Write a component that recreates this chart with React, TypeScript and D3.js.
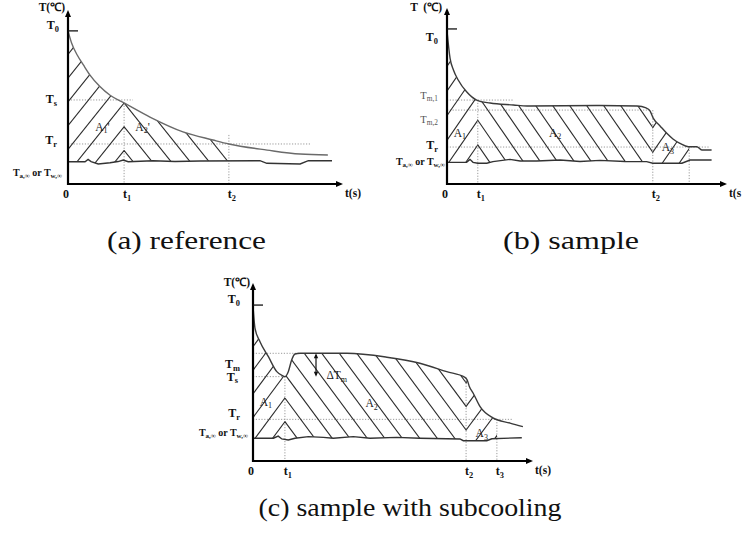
import React from "react";
import * as d3 from "d3";

type Pt = [number, number];

// Every panel uses a normalised 0..100 domain on both axes (time, temperature).

// ---- (a) reference ----
const refCoolTime = [0, 1.3, 3.4, 5.6, 8, 11.6, 15.3, 20.4, 29.8, 41.8, 52.7, 58.5, 72.4, 84.4, 94.5];
const refCoolTemp = [88, 81, 74, 68.4, 62.6, 56, 51, 46.6, 38.5, 30, 25.3, 23, 19.5, 17.2, 16.7];
const refAmbTime = [0, 6.2, 7.3, 8.4, 11, 15.3, 18.2, 20.1, 21.9, 30.9, 38.9, 48, 69.8, 72.3, 84.4, 87.4, 96];
const refAmbTemp = [12.8, 12.8, 14.1, 12.9, 11.5, 12.2, 12.9, 13.8, 12.8, 13.4, 12.9, 13.2, 13.4, 11.9, 11.5, 13.4, 13.4];
const refLevelLabels = ["T_{0}", "T_{s}", "T_{r}", "T_{a,∞} or T_{w,∞}"];
const refLevelValues = [88, 48.3, 23, 12.6];
const refTimeLabels = ["0", "t_{1}", "t_{2}"];
const refTimeValues = [0, 20.4, 58.5];
const refAreaLabels = ["A_{1}'", "A_{2}'"];

// ---- (b) sample ----
const smpCoolTime = [0, 1.1, 2.3, 4, 7, 10.6, 15.4, 23.7, 28.6, 54.6, 67.9, 71.1, 72.5, 73.7, 76.1, 78.5, 80.7, 83.2, 86.2, 89.2, 91, 94.5];
const smpCoolTemp = [87, 71.4, 64.8, 59.1, 52.4, 47.7, 46, 44.9, 44.3, 44.6, 44.3, 43.2, 41.5, 37.3, 33, 28.8, 25.6, 23.1, 21.2, 21.2, 19.3, 19.3];
const smpAmbTime = [0, 7, 8.2, 9.3, 11, 14.2, 16.4, 22.5, 26.1, 32, 40.4, 47.5, 54.6, 63.6, 71.3, 73.5, 83.9, 86.8, 94.5];
const smpAmbTemp = [12.3, 12.3, 14, 12.3, 11.8, 11.8, 12.7, 14, 13.1, 13.1, 13.6, 12.8, 13.4, 12.8, 12.7, 11.8, 11.8, 13.6, 13.6];
const smpLevelLabels = ["T_{0}", "T_{m,1}", "T_{m,2}", "T_{r}", "T_{a,∞} or T_{w,∞}"];
const smpLevelValues = [88.1, 47.7, 42, 21, 12.5];
const smpTimeLabels = ["0", "t_{1}", "t_{2}"];
const smpTimeValues = [0, 11, 73.5];
const smpAreaLabels = ["A_{1}", "A_{2}", "A_{3}"];

// ---- (c) sample with subcooling ----
const subCoolTime = [0, 0.7, 2.5, 5.5, 8.5, 10.5, 11.4, 12.6, 13.8, 15, 16.8, 33.5, 47.8, 59.6, 69.2, 75.7, 76.5, 77.3, 78.6, 81.1, 85.7, 91.8, 96.4];
const subCoolTemp = [87.1, 74.7, 67, 58.6, 50.2, 47.9, 47.4, 50.2, 56.7, 60.1, 60.5, 60.5, 58.3, 54.9, 50.2, 47, 45.5, 41.7, 38.2, 30.5, 24.2, 21.3, 19.3];
const subAmbTime = [0, 7.3, 9, 10.3, 12.6, 15, 19.8, 25.1, 28.7, 35.8, 41.8, 51.3, 59.6, 73.9, 75.1, 83.5, 85.3, 96];
const subAmbTemp = [12.8, 12.8, 14, 12.4, 11.8, 12.8, 13.7, 13.3, 12.8, 13.7, 12.8, 13.3, 12.8, 12.4, 11.4, 11.4, 12.5, 13.1];
const subLevelLabels = ["T_{0}", "T_{m}", "T_{s}", "T_{r}", "T_{a,∞} or T_{w,∞}"];
const subLevelValues = [87.6, 60.5, 47.4, 23.4, 12.8];
const subTimeLabels = ["0", "t_{1}", "t_{2}", "t_{3}"];
const subTimeValues = [0, 11.4, 76.1, 87.1];
const subAreaLabels = ["A_{1}", "A_{2}", "A_{3}", "ΔT_{m}"];

const captions = ["(a) reference", "(b) sample", "(c) sample with subcooling"];

const FONT = "Liberation Serif, Times New Roman, Times, serif";

const zip = (a: number[], b: number[]): Pt[] => a.map((v, i) => [v, b[i]]);

interface HatchRegion { from: number; to: number; mirror: number | null }
interface PanelCfg {
  id: string;
  title: string;
  timeTitle: string;
  x: [number, number];
  y: [number, number];
  coolTime: number[]; coolTemp: number[];
  ambTime: number[]; ambTemp: number[];
  levelLabels: string[]; levelValues: number[];
  levelGap: number[]; levelDy: number[]; levelLight: boolean[];
  levelSize: number[];
  timeLabels: string[]; timeValues: number[];
  guidesH: [number, number][]; // [temperature, end time]
  guidesV: [number, number][]; // [time, top temperature]
  hatch: { regions: HatchRegion[]; spacing: number; slope: number; anchorTime: number; anchorTemp: number };
  areaLabels: string[]; areaPos: Pt[];
  curveColor: string;
  titleDx: number; titleY: number;
  arrow?: [number, number, number];
}

const panels: PanelCfg[] = [
  {
    id: "a", title: "T(℃)", timeTitle: "t(s)",
    x: [68, 343], y: [184, 10],
    coolTime: refCoolTime, coolTemp: refCoolTemp, ambTime: refAmbTime, ambTemp: refAmbTemp,
    levelLabels: refLevelLabels, levelValues: refLevelValues,
    levelGap: [9, 11, 11, 6], levelDy: [-2, 3, 0, 14], levelLight: [false, false, false, false],
    levelSize: [12, 12, 12, 10],
    timeLabels: refTimeLabels, timeValues: refTimeValues,
    guidesH: [[48.3, 23.6], [23, 88]],
    guidesV: [[20.4, 46.6], [58.5, 28.2]],
    hatch: {
      regions: [{ from: 0, to: 20.4, mirror: 20.4 }, { from: 20.4, to: 58.5, mirror: null }],
      spacing: 19, slope: 1.25, anchorTime: 20.4, anchorTemp: 46.6,
    },
    areaLabels: refAreaLabels, areaPos: [[12.5, 32.8], [27.1, 32.8]],
    curveColor: "#6a6a6a",
    titleDx: -3, titleY: 11,
  },
  {
    id: "b", title: "T  (℃)", timeTitle: "t(s",
    x: [447, 727], y: [184, 8],
    coolTime: smpCoolTime, coolTemp: smpCoolTemp, ambTime: smpAmbTime, ambTemp: smpAmbTemp,
    levelLabels: smpLevelLabels, levelValues: smpLevelValues,
    levelGap: [9, 9, 9, 9, 2], levelDy: [12, -1.5, 12.5, 2, 3], levelLight: [false, true, true, false, false],
    levelSize: [12, 10.5, 10.5, 12, 10],
    timeLabels: smpTimeLabels, timeValues: smpTimeValues,
    guidesH: [[47.7, 23.6], [42, 72.5], [21, 94]],
    guidesV: [[11, 47.7], [73.5, 42], [86.5, 21]],
    hatch: {
      regions: [
        { from: 0, to: 11, mirror: 11 },
        { from: 11, to: 73.5, mirror: null },
        { from: 73.5, to: 86.5, mirror: 73.5 },
      ],
      spacing: 17, slope: 1.45, anchorTime: 11, anchorTemp: 22.2,
    },
    areaLabels: smpAreaLabels, areaPos: [[4.6, 29], [38.6, 29], [78.9, 21]],
    curveColor: "#3a3a3a",
    titleDx: -5, titleY: 11,
  },
  {
    id: "c", title: "T(℃)", timeTitle: "t(s)",
    x: [253, 533], y: [461, 283],
    coolTime: subCoolTime, coolTemp: subCoolTemp, ambTime: subAmbTime, ambTemp: subAmbTemp,
    levelLabels: subLevelLabels, levelValues: subLevelValues,
    levelGap: [13, 13, 15, 13, 5], levelDy: [-2, 15, 4, -2, -2], levelLight: [false, false, false, false, false],
    levelSize: [12, 12, 12, 12, 10],
    timeLabels: subTimeLabels, timeValues: subTimeValues,
    guidesH: [[60.5, 16.8], [47.4, 11.4], [23.4, 92.9]],
    guidesV: [[11.4, 47.4], [76.1, 47], [87.1, 23.4]],
    hatch: {
      regions: [
        { from: 0, to: 11.4, mirror: 11.4 },
        { from: 11.4, to: 76.1, mirror: null },
        { from: 76.1, to: 87.1, mirror: 76.1 },
      ],
      spacing: 17.5, slope: 1.35, anchorTime: 11.4, anchorTemp: 22.1,
    },
    areaLabels: subAreaLabels, areaPos: [[4.6, 33.3], [42.4, 32.4], [81.7, 15.6], [29.9, 48.3]],
    curveColor: "#3a3a3a",
    titleDx: -3, titleY: 285.5,
    arrow: [22.5, 60.5, 47.4],
  },
];

const captionLayout = [
  { x: 186.5, y: 249, w: 159 },
  { x: 571, y: 249, w: 136 },
  { x: 410, y: 516, w: 303 },
];

function parseRich(s: string) {
  const out: { text: string; sub: boolean }[] = [];
  const re = /_\{([^}]*)\}/g;
  let last = 0;
  let m: RegExpExecArray | null;
  while ((m = re.exec(s))) {
    if (m.index > last) out.push({ text: s.slice(last, m.index), sub: false });
    out.push({ text: m[1], sub: true });
    last = m.index + m[0].length;
  }
  if (last < s.length) out.push({ text: s.slice(last), sub: false });
  return out;
}

function Rich(props: {
  text: string; x: number; y: number; size: number;
  anchor?: string; weight?: string; fill?: string;
}) {
  const { text, x, y, size, anchor = "start", weight = "bold", fill = "#111" } = props;
  const parts = parseRich(text);
  const shift = size * 0.22;
  let cur = 0;
  return (
    <text x={x} y={y} fontSize={size} textAnchor={anchor} fontWeight={weight} fill={fill}
      fontFamily={FONT} style={{ whiteSpace: "pre" }}>
      {parts.map((p, i) => {
        const target = p.sub ? shift : 0;
        const d = target - cur;
        cur = target;
        return (
          <tspan key={i} dy={d} fontSize={p.sub ? size * 0.7 : size}>{p.text}</tspan>
        );
      })}
    </text>
  );
}

function Panel({ cfg }: { cfg: PanelCfg }) {
  const x = d3.scaleLinear().domain([0, 100]).range(cfg.x);
  const y = d3.scaleLinear().domain([0, 100]).range(cfg.y);
  const [x0, x1] = cfg.x;
  const [y0, yTop] = cfg.y;

  const upper = zip(cfg.coolTime, cfg.coolTemp);
  const lower = zip(cfg.ambTime, cfg.ambTemp);
  const upperGen = d3.line<Pt>().x((d) => x(d[0])).y((d) => y(d[1])).curve(d3.curveMonotoneX);
  const lowerGen = d3.line<Pt>().x((d) => x(d[0])).y((d) => y(d[1]));
  const upperD = upperGen(upper) || "";
  const lowerD = lowerGen(lower) || "";
  const areaD =
    upperD +
    lower.slice().reverse().map((p) => `L${x(p[0])},${y(p[1])}`).join("") +
    "Z";

  const { spacing, slope, anchorTime, anchorTemp } = cfg.hatch;
  const xt = x(anchorTime);
  const ya = y(anchorTemp);

  const hatchSets = cfg.hatch.regions.map((r) => {
    const xa = x(r.from) - 2;
    const xb = x(r.to) + 2;
    const xm = r.mirror == null ? null : x(r.mirror);
    const segs: [number, number, number, number][] = [];
    for (let k = -80; k <= 80; k++) {
      const f = (px: number) => ya + slope * ((xm == null ? px : 2 * xm - px) - xt) - k * spacing * slope;
      const ay = f(xa);
      const by = f(xb);
      if (Math.max(ay, by) < yTop || Math.min(ay, by) > y0) continue;
      segs.push([xa, ay, xb, by]);
    }
    return { r, segs };
  });

  const dot = { stroke: "#9a9a9a", strokeWidth: 1, strokeDasharray: "1.2 1.6", fill: "none" };

  return (
    <g>
      <defs>
        <clipPath id={`area-${cfg.id}`}>
          <path d={areaD} />
        </clipPath>
        {hatchSets.map(({ r }, i) => (
          <clipPath id={`band-${cfg.id}-${i}`} key={i}>
            <rect x={x(r.from)} y={yTop} width={x(r.to) - x(r.from)} height={y0 - yTop} />
          </clipPath>
        ))}
      </defs>

      {/* dotted reference levels and times */}
      {cfg.guidesH.map(([T, t], i) => (
        <line key={`h${i}`} x1={x0} x2={x(t)} y1={y(T)} y2={y(T)} {...dot} />
      ))}
      {cfg.guidesV.map(([t, T], i) => (
        <line key={`v${i}`} x1={x(t)} x2={x(t)} y1={y(T)} y2={y0} {...dot} />
      ))}

      {/* hatched areas */}
      {hatchSets.map(({ segs }, i) => (
        <g key={i} clipPath={`url(#band-${cfg.id}-${i})`}>
          <g clipPath={`url(#area-${cfg.id})`}>
            {segs.map((s, j) => (
              <line key={j} x1={s[0]} y1={s[1]} x2={s[2]} y2={s[3]} stroke="#2a2a2a" strokeWidth={1.1} />
            ))}
          </g>
        </g>
      ))}

      {/* temperature curves */}
      <path d={upperD} fill="none" stroke={cfg.curveColor} strokeWidth={1.4} />
      <path d={lowerD} fill="none" stroke="#333" strokeWidth={1.4} />

      {/* axes */}
      <line x1={x0} x2={x0} y1={y0 + 1} y2={yTop + 4} stroke="#000" strokeWidth={2.2} />
      <path d={`M${x0},${yTop} L${x0 - 3},${yTop + 7} L${x0 + 3},${yTop + 7} Z`} fill="#000" />
      <line x1={x0 - 1} x2={x1 - 4} y1={y0} y2={y0} stroke="#000" strokeWidth={2.2} />
      <path d={`M${x1},${y0} L${x1 - 7},${y0 - 3} L${x1 - 7},${y0 + 3} Z`} fill="#000" />
      <line x1={x0} x2={x0 + 10} y1={y(cfg.levelValues[0])} y2={y(cfg.levelValues[0])} stroke="#111" strokeWidth={1.3} />

      {cfg.arrow && (() => {
        const [t, Ta, Tb] = cfg.arrow!;
        const ax = x(t), ay1 = y(Ta), ay2 = y(Tb);
        return (
          <g>
            <line x1={ax} x2={ax} y1={ay1 + 2} y2={ay2 - 2} stroke="#111" strokeWidth={1.2} />
            <path d={`M${ax},${ay1} L${ax - 2.2},${ay1 + 5} L${ax + 2.2},${ay1 + 5} Z`} fill="#111" />
            <path d={`M${ax},${ay2} L${ax - 2.2},${ay2 - 5} L${ax + 2.2},${ay2 - 5} Z`} fill="#111" />
          </g>
        );
      })()}

      {/* axis titles and labels */}
      <Rich text={cfg.title} x={x0 + cfg.titleDx} y={cfg.titleY} size={11.5} anchor="end" />
      <Rich text={cfg.timeTitle} x={x1 + 2} y={y0 + 13} size={11.5} />
      {cfg.levelLabels.map((lab, i) => (
        <Rich key={lab} text={lab} x={x0 - cfg.levelGap[i]} y={y(cfg.levelValues[i]) + cfg.levelDy[i]}
          size={cfg.levelSize[i]} anchor="end"
          weight={cfg.levelLight[i] ? "normal" : "bold"} fill={cfg.levelLight[i] ? "#555" : "#111"} />
      ))}
      {cfg.timeLabels.map((lab, i) => (
        <Rich key={lab} text={lab} x={x(cfg.timeValues[i]) + (i === 0 ? -2 : 3)} y={y0 + 14}
          size={12} anchor="middle" />
      ))}
      {cfg.areaLabels.map((lab, i) => (
        <Rich key={lab} text={lab} x={x(cfg.areaPos[i][0])} y={y(cfg.areaPos[i][1]) + 4}
          size={11.5} anchor="middle" weight="normal" fill="#222" />
      ))}
    </g>
  );
}

export default function App() {
  return (
    <svg width={742} height={541} viewBox="0 0 742 541"
      style={{ position: "absolute", left: 0, top: 0, background: "#fff" }}>
      <rect width={742} height={541} fill="#fff" />
      {panels.map((p) => (
        <Panel key={p.id} cfg={p} />
      ))}
      {captions.map((c, i) => (
        <text key={c} x={captionLayout[i].x} y={captionLayout[i].y} textAnchor="middle"
          fontFamily={FONT} fontSize={26} fill="#111"
          textLength={captionLayout[i].w} lengthAdjust="spacingAndGlyphs">
          {c}
        </text>
      ))}
    </svg>
  );
}
